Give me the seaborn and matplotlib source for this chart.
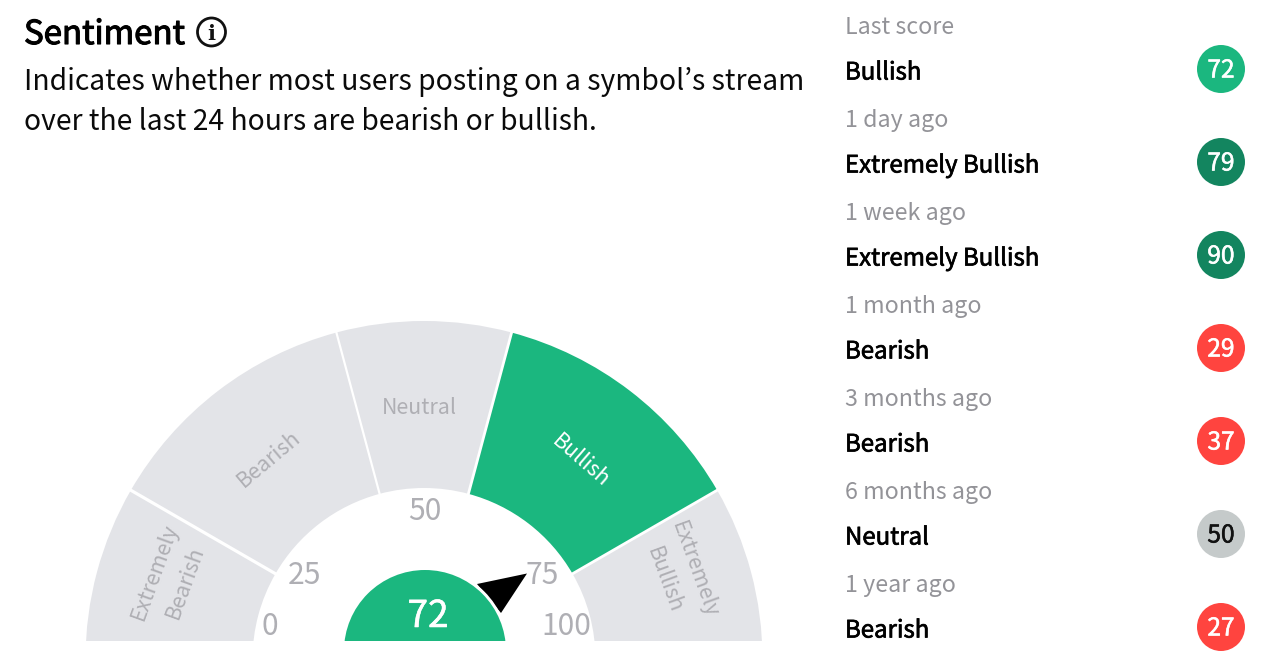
import matplotlib
matplotlib.use("Agg")
import matplotlib.pyplot as plt
from matplotlib.patches import Wedge, Circle, Polygon, Rectangle
import matplotlib.patheffects as pe
import numpy as np
import pandas as pd
import seaborn as sns

periods = ["Last score", "1 day ago", "1 week ago", "1 month ago", "3 months ago", "6 months ago", "1 year ago"]
moods = ["Bullish", "Extremely Bullish", "Extremely Bullish", "Bearish", "Bearish", "Neutral", "Bearish"]
scores = [72, 79, 90, 29, 37, 50, 27]
palette = {"Bullish": "#1BB77F", "Extremely Bullish": "#13855F", "Bearish": "#FF443F", "Neutral": "#C5CACA"}

segment_names = ["Extremely\nBearish", "Bearish", "Neutral", "Bullish", "Extremely\nBullish"]
segment_angles = [180, 150, 105, 75, 30, 0]
active_segment = 3
tick_values = ["0", "25", "50", "75", "100"]
current_score = 72

sns.set_theme(style="white")
FONT = ["Noto Sans CJK KR", "DejaVu Sans"]
plt.rcParams["font.family"] = FONT

def px(size):
    return size * 72 / 100

def semibold(color, w=0.5):
    return [pe.withStroke(linewidth=w, foreground=color)]

fig = plt.figure(figsize=(12.7, 6.72), dpi=100)
ax = fig.add_axes([0, 0, 1, 1])
ax.set_xlim(0, 1270)
ax.set_ylim(672, 0)
ax.axis("off")

# header
ax.text(24, 44, "Sentiment", fontsize=px(33), color="#000000", path_effects=semibold("#000000", 0.8))
ax.add_patch(Circle((211.5, 32), 14, fill=False, ec="#111111", lw=2))
ax.text(211.5, 40, "i", fontsize=px(21), fontweight="bold", family="DejaVu Serif", color="#111111", ha="center")
ax.text(24, 90, "Indicates whether most users posting on a symbol\u2019s stream", fontsize=px(28.3), color="#0a0a0a")
ax.text(24, 130, "over the last 24 hours are bearish or bullish.", fontsize=px(28.2), color="#0a0a0a")

# gauge
cx, cy, R, r = 424, 659.5, 338.5, 171.5
clip = Rectangle((0, 0), 1270, 641, transform=ax.transData)
for i in range(len(segment_names)):
    a0, a1 = segment_angles[i + 1], segment_angles[i]
    col = palette["Bullish"] if i == active_segment else "#E3E4E8"
    w = Wedge((cx, cy), R, -a1, -a0, width=R - r, fc=col, ec="none")
    ax.add_patch(w)
    w.set_clip_path(clip)
for a, lw in zip(segment_angles[1:-1], [3.2, 2.2, 2.8, 2.8]):
    t = np.deg2rad(a)
    ax.plot([cx + (r - 2) * np.cos(t), cx + (R + 2) * np.cos(t)],
            [cy - (r - 2) * np.sin(t), cy - (R + 2) * np.sin(t)], color="white", lw=lw * 0.72, solid_capstyle="butt")

grey = "#AFAFB4"
ax.text(170, 577, segment_names[0], fontsize=px(21.5), color=grey, rotation=70, ha="center", va="center",
        rotation_mode="anchor", linespacing=1.6, multialignment="center")
ax.text(269, 459, segment_names[1], fontsize=px(21.5), color=grey, rotation=40, ha="center", va="center", rotation_mode="anchor")
ax.text(419, 408, segment_names[2], fontsize=px(21.5), color=grey, ha="center", va="center")
ax.text(581, 461, segment_names[3], fontsize=px(21.5), color="white", rotation=-41, ha="center", va="center", rotation_mode="anchor")
ax.text(679, 575, segment_names[4], fontsize=px(21.5), color=grey, rotation=-70, ha="center", va="center",
        rotation_mode="anchor", linespacing=1.6, multialignment="center")

for s, x, y in zip(tick_values, [269.5, 304.5, 424.5, 542.5, 566.5], [635, 584, 520, 584, 635]):
    ax.text(x, y, s, fontsize=px(30), color=grey, ha="center", fontweight="normal")

# pointer and hub
ax.add_patch(Polygon([(477, 584), (527, 573.5), (501, 613)], closed=True, fc="black", ec="none"))
hub_clip = Rectangle((0, 0), 1270, 641, transform=ax.transData)
halo = Circle((425, 651), 84, fc="white", ec="none"); ax.add_patch(halo); halo.set_clip_path(hub_clip)
hub = Circle((425, 651), 81, fc=palette["Bullish"], ec="none"); ax.add_patch(hub); hub.set_clip_path(hub_clip)
ax.text(428, 627, str(current_score), fontsize=px(37), color="white", ha="center", path_effects=semibold("white", 0.4))

# history list
rows = pd.DataFrame({"period": periods, "mood": moods, "score": scores})
rows["row"] = range(len(rows))
rows["y"] = 69 + rows["row"] * 93
sns.scatterplot(data=rows, x=np.full(len(rows), 1221), y="y", hue="mood", palette=palette,
                s=px(48) ** 2, linewidth=0, legend=False, ax=ax, zorder=3)
ax.set_xlim(0, 1270); ax.set_ylim(672, 0)
ax.set_xlabel(""); ax.set_ylabel("")
for _, row in rows.iterrows():
    ax.text(845, row.y - 35, row.period, fontsize=px(23.2), color="#939398")
    ax.text(845, row.y + 10.5, row.mood, fontsize=px(24), color="#000000", path_effects=semibold("#000000", 0.5))
    score_col = "white" if row.mood != "Neutral" else "#111111"
    ax.text(1221, row.y + 8.5, str(row.score), fontsize=px(24.5), color=score_col,
            ha="center", zorder=4, path_effects=semibold(score_col, 0.4))

fig.savefig("out.png", dpi=100, facecolor="white")
